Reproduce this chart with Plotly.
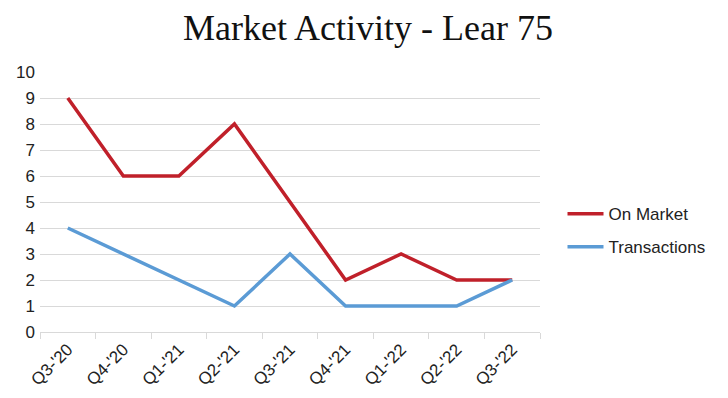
import plotly.graph_objects as go

quarters = ["Q3-'20", "Q4-'20", "Q1-'21", "Q2-'21", "Q3-'21", "Q4-'21", "Q1-'22", "Q2-'22", "Q3-'22"]
on_market = [9, 6, 6, 8, 5, 2, 3, 2, 2]
transactions = [4, 3, 2, 1, 3, 1, 1, 1, 2]

fig = go.Figure()
fig.add_trace(go.Scatter(x=quarters, y=on_market, mode="lines", name="On Market",
                         legendgroup="a",
                         line=dict(color="#c0202a", width=3.5)))
fig.add_trace(go.Scatter(x=quarters, y=transactions, mode="lines", name="Transactions",
                         legendgroup="b",
                         line=dict(color="#5b9bd5", width=3.5)))

fig.update_layout(
    width=720, height=390,
    margin=dict(l=32, r=188, t=64, b=66),
    paper_bgcolor="white", plot_bgcolor="white",
    title=dict(text="Market Activity - Lear 75", x=0.5, xanchor="center", y=0.949, yanchor="middle",
               font=dict(family="Liberation Serif", size=36, color="#111111")),
    font=dict(family="Liberation Sans", size=17, color="#222222"),
    legend=dict(x=1.045, xanchor="left", y=0.39, yanchor="middle",
                font=dict(family="Liberation Sans", size=17, color="#222222"),
                tracegroupgap=8, itemwidth=36),
    showlegend=True,
)
fig.update_xaxes(type="category", range=[-0.5, 8.5], tickangle=-45, showgrid=False,
                 showline=True, linecolor="#d9d9d9", linewidth=1,
                 ticks="outside", tickson="boundaries", ticklen=6, tickcolor="#d9d9d9",
                 tickfont=dict(size=17), automargin=False)
fig.update_yaxes(range=[0, 10], dtick=1, showgrid=True, gridcolor="#d9d9d9", gridwidth=1,
                 zeroline=False, showline=False, ticks="", tickfont=dict(size=17),
                 ticklabelstandoff=4, automargin=False)

fig.write_html("out.html")
